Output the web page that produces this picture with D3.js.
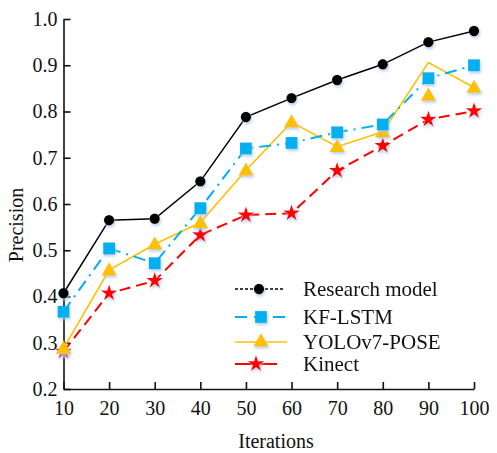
<!DOCTYPE html>
<html>
<head>
<meta charset="utf-8">
<script src="https://cdn.jsdelivr.net/npm/d3@7"></script>
<style>
  html, body { margin: 0; padding: 0; background: #fff; }
  svg text { font-family: "Liberation Serif", "Times New Roman", serif; fill: #111; }
</style>
</head>
<body>
<svg id="chart" width="497" height="453"></svg>
<script>
const iterations = [10, 20, 30, 40, 50, 60, 70, 80, 90, 100];
const researchModel = [0.407, 0.565, 0.568, 0.649, 0.788, 0.829, 0.868, 0.902, 0.950, 0.974];
const kfLstm = [0.367, 0.504, 0.472, 0.591, 0.720, 0.732, 0.755, 0.772, 0.872, 0.900];
const yoloLine = [0.288, 0.457, 0.513, 0.560, 0.673, 0.777, 0.724, 0.756, 0.906, 0.852];
const yoloMarks = [0.288, 0.457, 0.513, 0.560, 0.673, 0.777, 0.724, 0.756, 0.835, 0.852];
const kinect = [0.281, 0.407, 0.434, 0.533, 0.576, 0.580, 0.672, 0.726, 0.783, 0.801];
const yTicks = [0.2, 0.3, 0.4, 0.5, 0.6, 0.7, 0.8, 0.9, 1.0];
const legendNames = ["Research model", "KF-LSTM", "YOLOv7-POSE", "Kinect"];

const svg = d3.select("#chart");
const x = d3.scaleLinear().domain([10, 100]).range([63.5, 474]);
const y = d3.scaleLinear().domain([0.2, 1.0]).range([389, 19]);

// soft blue glow under the markers
const defs = svg.append("defs");
defs.append("filter").attr("id", "glow").attr("x", "-50%").attr("y", "-50%").attr("width", "200%").attr("height", "200%")
  .append("feDropShadow")
  .attr("dx", 1).attr("dy", 2).attr("stdDeviation", 1.8)
  .attr("flood-color", "#a9c6e4").attr("flood-opacity", 0.85);

// axes, ticks pointing inward
const xAxis = svg.append("g").attr("transform", "translate(0,389)")
  .call(d3.axisBottom(x).tickValues(iterations).tickSizeInner(-7).tickSizeOuter(0).tickPadding(12).tickFormat(d3.format("d")));
const yAxis = svg.append("g").attr("transform", "translate(63.5,0)")
  .call(d3.axisLeft(y).tickValues(yTicks).tickSizeInner(-7).tickSizeOuter(0).tickPadding(6).tickFormat(d3.format(".1f")));
[xAxis, yAxis].forEach((g) => {
  g.select(".domain").attr("stroke", "#111").attr("stroke-width", 1.6);
  g.selectAll(".tick line").attr("stroke", "#111").attr("stroke-width", 1.6);
  g.selectAll("text").attr("font-size", 20).attr("fill", "#111")
    .style("font-family", "'Liberation Serif', 'Times New Roman', serif");
});

svg.append("text").attr("x", 276).attr("y", 448).attr("text-anchor", "middle").attr("font-size", 20).text("Iterations");
svg.append("text").attr("transform", "translate(23,225) rotate(-90)").attr("text-anchor", "middle").attr("font-size", 20).text("Precision");

const line = d3.line().x((d) => x(d[0])).y((d) => y(d[1]));
const zip = (vals) => iterations.map((it, i) => [it, vals[i]]);

const star = d3.symbol().type(d3.symbolStar).size(85);
const tri = d3.symbol().type(d3.symbolTriangle).size(100);
const sq = d3.symbol().type(d3.symbolSquare).size(140);
const circ = d3.symbol().type(d3.symbolCircle).size(85);

const series = [
  { name: legendNames[3], line: kinect, marks: kinect, color: "#ff0000", width: 2, dash: "11,6", legendDash: null, symbol: star, legendLen: [235, 277] },
  { name: legendNames[2], line: yoloLine, marks: yoloMarks, color: "#ffc000", width: 1.6, dash: null, legendDash: null, symbol: tri, legendLen: [235, 287] },
  { name: legendNames[1], line: kfLstm, marks: kfLstm, color: "#00b0f0", width: 2, dash: "12,6,2,6", legendDash: "12,7", symbol: sq, legendLen: [235, 287] },
  { name: legendNames[0], line: researchModel, marks: researchModel, color: "#000000", width: 1.5, dash: null, legendDash: "3,2", symbol: circ, legendLen: [235, 283] }
];

series.forEach((s) => {
  svg.append("path").datum(zip(s.line)).attr("d", line)
    .attr("fill", "none").attr("stroke", s.color).attr("stroke-width", s.width)
    .attr("stroke-dasharray", s.dash);
});
series.forEach((s) => {
  svg.append("g").attr("filter", "url(#glow)").selectAll("path").data(zip(s.marks)).join("path")
    .attr("d", s.symbol)
    .attr("transform", (d) => `translate(${x(d[0])},${y(d[1]) + (s.symbol === tri ? 1 : 0)})`)
    .attr("fill", s.color);
});

// legend
const legendRows = [289, 317, 342, 364];
series.slice().reverse().forEach((s, i) => {
  const ly = legendRows[i];
  const g = svg.append("g");
  g.append("line").attr("x1", s.legendLen[0]).attr("x2", s.legendLen[1]).attr("y1", ly).attr("y2", ly)
    .attr("stroke", s.color).attr("stroke-width", s.width).attr("stroke-dasharray", s.legendDash);
  g.append("path").attr("d", s.symbol).attr("filter", "url(#glow)")
    .attr("transform", `translate(${(s.legendLen[0] + s.legendLen[1]) / 2},${ly})`).attr("fill", s.color);
  g.append("text").attr("x", 303).attr("y", ly + 7).attr("font-size", 21).text(s.name);
});
</script>
</body>
</html>
